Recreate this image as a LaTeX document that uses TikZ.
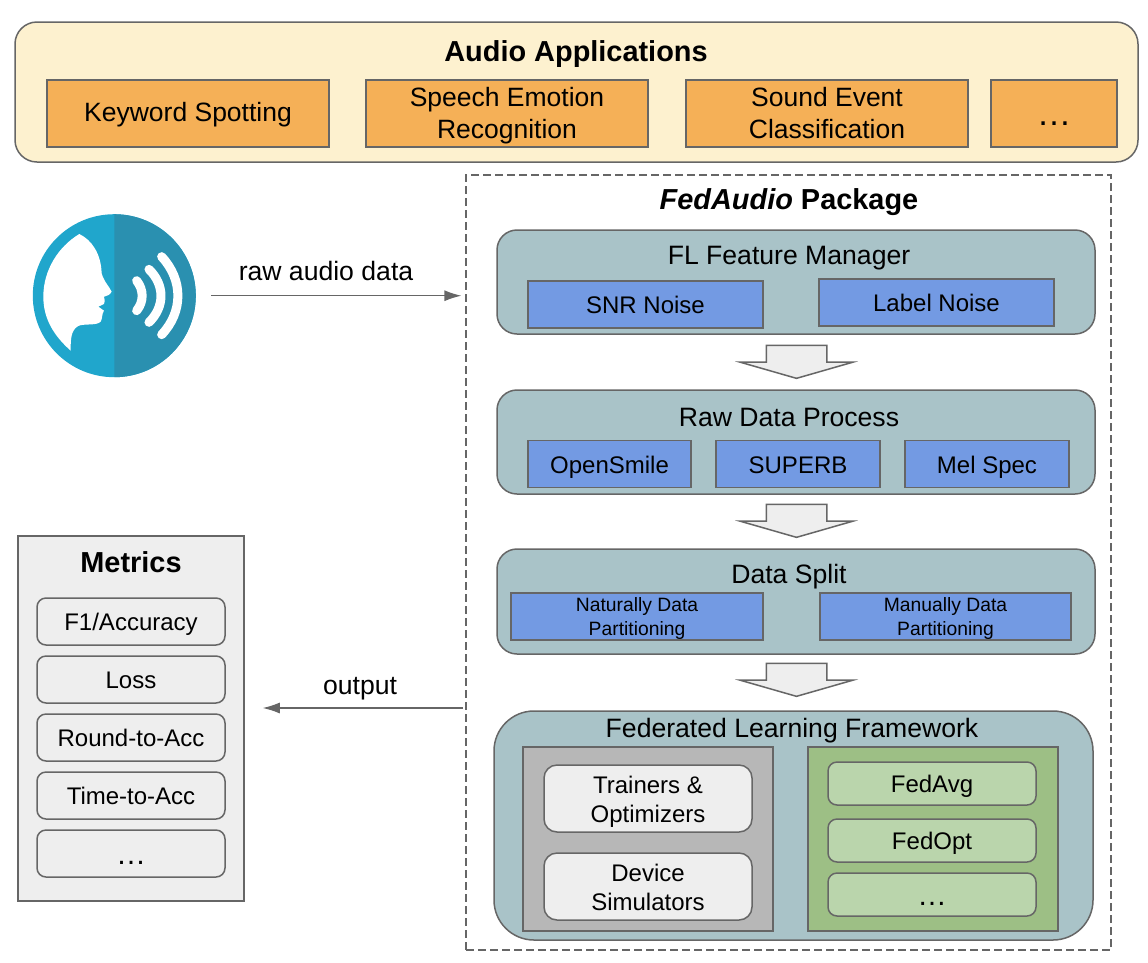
\documentclass[tikz,border=0pt]{standalone}
\usepackage{fontspec}
\setmainfont{Liberation Sans}
\usetikzlibrary{arrows.meta,shapes.arrows}
\definecolor{edgegray}{HTML}{666666}
\definecolor{appyellow}{HTML}{FDF1CF}
\definecolor{apporange}{HTML}{F5B057}
\definecolor{paneteal}{HTML}{A9C3C8}
\definecolor{toolblue}{HTML}{739AE3}
\definecolor{softgray}{HTML}{EEEEEE}
\definecolor{midgray}{HTML}{B7B7B7}
\definecolor{frameworkgreen}{HTML}{9DBF85}
\definecolor{lightgreen}{HTML}{BAD5AC}
\definecolor{iconblue}{HTML}{20A6CC}
\definecolor{icondark}{HTML}{2A90B0}
\newcommand{\linebox}{\rule[-8pt]{0pt}{34pt}}
\newcommand{\applinebox}{\rule[-8pt]{0pt}{32pt}}
\newcommand{\smallbox}{\rule[-4.5pt]{0pt}{46.5pt}}
\newcommand{\titlebox}{\rule[-9pt]{0pt}{36pt}}
\newcommand{\moredots}[2]{{\fontsize{#1}{#1}\selectfont\raisebox{#2}{…}}}
\tikzset{
	box/.style={draw=edgegray, line width=1.5pt, inner sep=0pt, align=center, text=black, font=\fontsize{24}{29}\selectfont},
	boxtext/.style={box, execute at begin node=\linebox, execute at end node=\linebox},
	twolines/.style={execute at begin node=\rule[-8pt]{0pt}{#1}},
	title/.style={inner sep=0pt, align=center, font=\fontsize{26.6}{30}\selectfont, execute at begin node=\titlebox, execute at end node=\titlebox},
	boldtitle/.style={title, font=\fontsize{28.9}{30}\selectfont\bfseries},
	appbox/.style={box, execute at begin node=\applinebox, execute at end node=\applinebox, fill=apporange, minimum height=67pt, font=\fontsize{26.5}{31.5}\selectfont},
	pane/.style={box, fill=paneteal, rounded corners=20pt, minimum width=598pt},
	toolbox/.style={boxtext, fill=toolblue, minimum height=47pt},
	smalltool/.style={box, execute at begin node=\smallbox, execute at end node=\smallbox, fill=toolblue, minimum height=47pt, font=\fontsize{19.3}{24}\selectfont},
	softbox/.style={boxtext, twolines=63pt, fill=softgray, rounded corners=13pt, minimum width=208pt, minimum height=67pt},
	metricbox/.style={boxtext, fill=softgray, rounded corners=9pt, minimum width=188pt, minimum height=47pt},
	algobox/.style={boxtext, fill=lightgreen, rounded corners=9pt, minimum width=208pt, minimum height=43pt},
	hollowarrow/.style={draw=edgegray, line width=1.5pt, fill=softgray, single arrow, rotate=-90, inner xsep=0pt, inner ysep=29.5pt,
		minimum height=33pt, minimum width=111pt, single arrow head extend=26pt, single arrow tip angle=148},
	flowline/.style={draw=edgegray, line width=1.2pt, -{Latex[length=17pt,width=11pt]}},
}
\begin{document}
\begin{tikzpicture}[x=1pt, y=-1pt]
	\useasboundingbox (0,0) rectangle (1148,962);

	% applications on top
	\node[box, fill=appyellow, rounded corners=22pt, minimum width=1123pt, minimum height=140pt] (apps) at (576.5,92) {};
	\node[boldtitle] (appstitle) at (576,52) {Audio Applications};
	\node[appbox, minimum width=282pt] (keyword) at (188,113.5) {Keyword Spotting};
	\node[appbox, twolines=65pt, minimum width=282pt] (emotion) at (507,113.5) {Speech Emotion\\Recognition};
	\node[appbox, twolines=65pt, minimum width=282pt] (sound) at (827,113.5) {Sound Event\\Classification};
	\node[appbox, minimum width=126pt] (moreapps) at (1054,113.5) {\moredots{34.5}{-3.5pt}};

	% package frame
	\node[draw=edgegray, line width=1.2pt, dash pattern=on 8pt off 4pt, minimum width=645pt, minimum height=775pt] (package) at (788.5,562.5) {};
	\node[boldtitle] (packagetitle) at (789,200) {\textit{FedAudio} Package};

	\node[pane, minimum height=104pt] (feature) at (796,282) {};
	\node[title] (featuretitle) at (789,255) {FL Feature Manager};
	\node[toolbox, minimum width=235pt] (snr) at (645.5,304.5) {SNR Noise};
	\node[toolbox, minimum width=235pt] (label) at (936.5,302.5) {Label Noise};

	\node[pane, minimum height=104pt] (raw) at (796,442) {};
	\node[title] (rawtitle) at (789,417) {Raw Data Process};
	\node[toolbox, minimum width=163pt] (opensmile) at (609.5,464) {OpenSmile};
	\node[toolbox, minimum width=164pt] (superb) at (798,464) {SUPERB};
	\node[toolbox, minimum width=164pt] (melspec) at (987,464) {Mel Spec};

	\node[pane, minimum height=105pt] (split) at (796,601.5) {};
	\node[title] (splittitle) at (789,574) {Data Split};
	\node[smalltool, minimum width=252pt] (natural) at (637,616.5) {Naturally Data\\Partitioning};
	\node[smalltool, minimum width=251pt] (manual) at (945.5,616.5) {Manually Data\\Partitioning};

	\node[box, fill=paneteal, rounded corners=40pt, minimum width=599pt, minimum height=229pt] (framework) at (793.5,825.5) {};
	\node[title] (frameworktitle) at (792,728) {Federated Learning Framework};
	\node[box, fill=midgray, minimum width=250pt, minimum height=184pt] (training) at (648,839) {};
	\node[softbox] (trainers) at (648,798.5) {Trainers \&\\Optimizers};
	\node[softbox] (simulators) at (648,886.5) {Device\\Simulators};
	\node[box, fill=frameworkgreen, minimum width=250pt, minimum height=184pt] (algos) at (933,839) {};
	\node[algobox] (fedavg) at (932,783.5) {FedAvg};
	\node[algobox] (fedopt) at (932,840.5) {FedOpt};
	\node[algobox] (morealgos) at (932,894.5) {\moredots{29.5}{-1.5pt}};

	% block arrows between the panes
	\foreach \name/\ypos in {arrowa/357.5, arrowb/516.5, arrowc/675.5}
		\node[hollowarrow] (\name) at (796.5,\ypos) {};

	% metrics
	\node[box, fill=softgray, minimum width=226pt, minimum height=365pt] (metrics) at (131,718.5) {};
	\node[boldtitle] (metricstitle) at (131,563) {Metrics};
	\node[metricbox] (accuracy) at (131,621.5) {F1/Accuracy};
	\node[metricbox] (loss) at (131,679.5) {Loss};
	\node[metricbox] (roundacc) at (131,737.5) {Round-to-Acc};
	\node[metricbox] (timeacc) at (131,795.5) {Time-to-Acc};
	\node[metricbox] (moremetrics) at (131,853.5) {\moredots{30}{-1.5pt}};

	% speaker icon
	\node[circle, fill=iconblue, inner sep=0pt, minimum size=163pt] (speaker) at (114.3,295.7) {};
	\fill[icondark] (114.3,214.2) arc[start angle=90, end angle=-90, radius=81.5pt] -- cycle;
	\begin{scope}[x=0.3333pt, y=-0.3333pt, yshift=-190pt]
		\fill[white] (238,132) .. controls (275,150) and (303,190) .. (305,250)
			.. controls (312,275) and (328,290) .. (335,305)
			.. controls (330,316) and (318,318) .. (312,320)
			.. controls (314,330) and (316,335) .. (312,342)
			-- (295,350) -- (312,362)
			.. controls (305,372) and (308,385) .. (302,395)
			.. controls (290,408) and (250,400) .. (235,408)
			.. controls (212,420) and (212,450) .. (212,482)
			.. controls (165,440) and (130,390) .. (130,320)
			.. controls (130,240) and (175,170) .. (238,132) -- cycle;
		\draw[white, line width=9pt, line cap=round] (410,272) .. controls (432,300) and (432,335) .. (410,362);
		\draw[white, line width=9pt, line cap=round] (447,238) .. controls (495,285) and (495,350) .. (447,397);
		\draw[white, line width=9pt, line cap=round] (485,200) .. controls (550,270) and (550,365) .. (485,434);
	\end{scope}

	% connectors
	\draw[flowline, shorten <=15pt, shorten >=4pt] (speaker.east) -- (speaker.east -| package.west);
	\node[title] (rawlabel) at (326,271) {raw audio data};
	\coordinate (outstart) at (466,708);
	\draw[flowline, shorten <=3pt, shorten >=18pt] (outstart) -- (outstart -| metrics.east);
	\node[title] (outlabel) at (360,685) {output};
\end{tikzpicture}
\end{document}
